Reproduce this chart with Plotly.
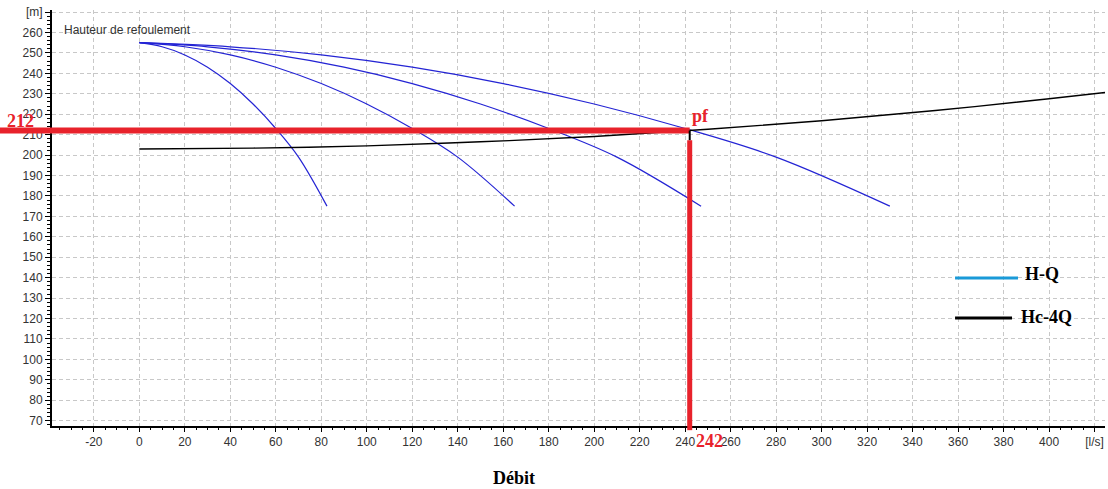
import plotly.graph_objects as go

# ---- data ----
head_pump = [255, 253, 249, 243, 235, 225, 213, 199, 175]          # H [m]
q_1pump = [0, 10, 20, 30, 40, 50, 60, 70, 82.5]                     # Q [l/s]
q_2pump = [0, 20, 40, 60, 80, 100, 120, 140, 165]
q_3pump = [0, 30, 60, 90, 120, 150, 180, 210, 247]
q_4pump = [0, 40, 80, 120, 160, 200, 240, 280, 330]

q_system = [0, 50, 100, 150, 200, 250, 300, 350, 400, 426]
h_system = [203, 203.4, 204.5, 206.5, 209.1, 212.6, 216.8, 221.8, 227.6, 230.8]

q_pf = 242
h_pf = 212

x_ticks = [-20, 0, 20, 40, 60, 80, 100, 120, 140, 160, 180, 200, 220, 240, 260,
           280, 300, 320, 340, 360, 380, 400, 420]
x_ticktext = [str(v) for v in x_ticks[:-1]] + ["[l/s]"]
y_ticks = list(range(70, 271, 10))
y_ticktext = [str(v) for v in y_ticks[:-1]] + ["[m]"]

BLUE = "#2424d4"
RED = "#e8222b"
SERIF = "Liberation Serif, Times New Roman, serif"
SANS = "Liberation Sans, Arial, sans-serif"

fig = go.Figure()
for q in (q_1pump, q_2pump, q_3pump, q_4pump):
    fig.add_trace(go.Scatter(x=q, y=head_pump, mode="lines", line_shape="spline",
                             line=dict(color=BLUE, width=1.2), hoverinfo="skip"))
fig.add_trace(go.Scatter(x=q_system, y=h_system, mode="lines", line_shape="spline",
                         line=dict(color="black", width=1.4), hoverinfo="skip"))

shapes = [
    # horizontal red line (inside plot) and its extension over the tick labels
    dict(type="line", xref="x", yref="y", x0=-60, x1=q_pf, y0=h_pf, y1=h_pf,
         line=dict(color=RED, width=6)),
    dict(type="line", xref="paper", yref="y", x0=-0.06, x1=0, y0=h_pf, y1=h_pf,
         line=dict(color=RED, width=6)),
    # vertical red line
    dict(type="line", xref="x", yref="y", x0=q_pf, x1=q_pf, y0=207.3, y1=40,
         line=dict(color=RED, width=5)),
    dict(type="line", xref="x", yref="paper", x0=q_pf, x1=q_pf, y0=-0.01, y1=0,
         line=dict(color=RED, width=5)),
    # short black tick at the operating point
    dict(type="line", xref="x", yref="y", x0=q_pf, x1=q_pf, y0=h_pf, y1=207.3,
         line=dict(color="black", width=2)),
    # custom legend lines
    dict(type="line", xref="paper", yref="paper", x0=0.8576, x1=0.9174, y0=0.3558, y1=0.3558,
         line=dict(color="#1a9ad8", width=3)),
    dict(type="line", xref="paper", yref="paper", x0=0.8576, x1=0.9117, y0=0.2596, y1=0.2596,
         line=dict(color="black", width=3)),
]

annotations = [
    dict(text="Hauteur de refoulement", xref="paper", yref="paper", x=0.0095, y=0.952,
         xanchor="left", yanchor="middle", showarrow=False,
         font=dict(family=SANS, size=12, color="#333")),
    dict(text="<b>212</b>", xref="paper", yref="y", x=-0.0295, y=216.7,
         xanchor="center", yanchor="middle", showarrow=False,
         font=dict(family=SERIF, size=18, color=RED)),
    dict(text="<b>242</b>", xref="x", yref="paper", x=250.5, y=-0.036,
         xanchor="center", yanchor="middle", showarrow=False,
         font=dict(family=SERIF, size=18, color=RED)),
    dict(text="<b>pf</b>", xref="x", yref="y", x=246.6, y=219.1,
         xanchor="center", yanchor="middle", showarrow=False,
         font=dict(family=SERIF, size=18, color=RED)),
    dict(text="<b>Débit</b>", xref="paper", yref="paper", x=0.439, y=-0.125,
         xanchor="center", yanchor="middle", showarrow=False,
         font=dict(family=SERIF, size=18, color="black")),
    dict(text="<b>H-Q</b>", xref="paper", yref="paper", x=0.9218, y=0.365,
         xanchor="left", yanchor="middle", showarrow=False,
         font=dict(family=SERIF, size=18, color="black")),
    dict(text="<b>Hc-4Q</b>", xref="paper", yref="paper", x=0.9188, y=0.262,
         xanchor="left", yanchor="middle", showarrow=False,
         font=dict(family=SERIF, size=18, color="black")),
]

grid = dict(showgrid=True, gridcolor="#c8c8c8", gridwidth=1, griddash="4px,3px")

fig.update_layout(
    width=1108, height=489,
    margin=dict(l=52, r=3, t=10, b=63),
    paper_bgcolor="white", plot_bgcolor="white",
    showlegend=False,
    shapes=shapes, annotations=annotations,
    xaxis=dict(range=[-38.4, 424.6], tickvals=x_ticks, ticktext=x_ticktext,
               showline=True, linecolor="black", linewidth=2,
               ticks="outside", ticklen=4, tickcolor="black", tickwidth=1,
               minor=dict(dtick=5, tick0=0, ticks="outside", ticklen=2, tickcolor="black", showgrid=False),
               tickfont=dict(family=SANS, size=12, color="#333"),
               zeroline=False, automargin=False, fixedrange=True, **grid),
    yaxis=dict(range=[67.4, 271], tickvals=y_ticks, ticktext=y_ticktext,
               showline=True, linecolor="black", linewidth=2,
               ticks="outside", ticklen=5, tickcolor="black", tickwidth=1,
               minor=dict(dtick=2, tick0=0, ticks="outside", ticklen=3, tickcolor="black", showgrid=False),
               tickfont=dict(family=SANS, size=12, color="#333"),
               zeroline=False, automargin=False, fixedrange=True, **grid),
)

fig.write_html("out.html")
